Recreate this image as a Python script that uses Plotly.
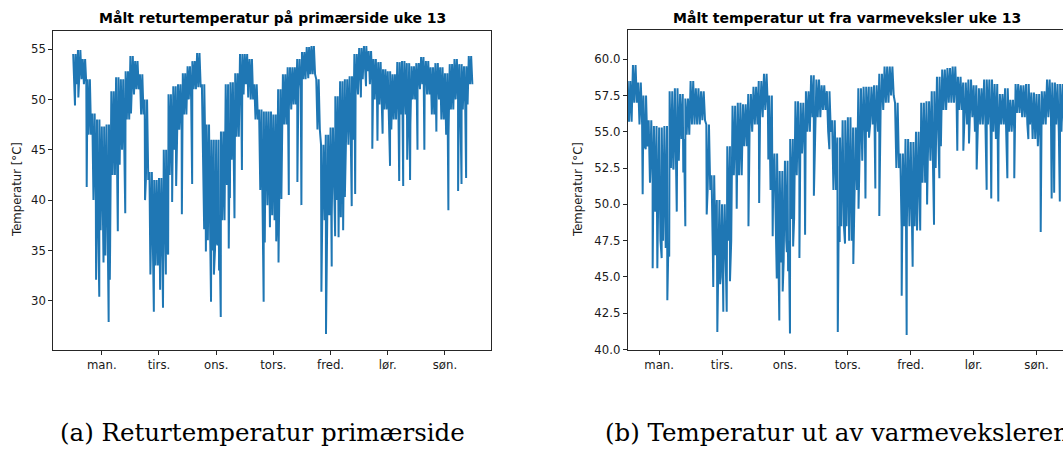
import plotly.graph_objects as go

W, H = 1063, 453

# ---------------- data ----------------
day_labels = ["man.", "tirs.", "ons.", "tors.", "fred.", "lør.", "søn."]
day_ticks = [0.5, 1.5, 2.5, 3.5, 4.5, 5.5, 6.5]   # noon of each day (x in days)
cell_hours = 2                                    # envelope readings every 2 hours

# Left chart: return temperature, primary side (upper / lower edge of the dense band per 2 h)
left_hi = [54.5, 54.9, 54.0, 52.0, 48.6, 48.0, 47.3, 47.5, 50.8, 52.2, 52.0, 52.8,
           54.3, 53.8, 52.5, 50.0, 42.8, 42.0, 42.2, 45.0, 50.5, 51.3, 51.5, 52.6,
           53.3, 53.8, 54.6, 51.5, 47.5, 46.0, 46.0, 46.8, 51.5, 51.7, 52.6, 54.5,
           54.5, 54.0, 51.5, 49.0, 48.8, 48.8, 48.5, 51.0, 52.5, 53.2, 53.2, 54.0,
           54.7, 55.2, 55.3, 52.0, 45.5, 46.5, 47.2, 50.3, 51.8, 52.0, 52.3, 54.5,
           55.1, 55.3, 54.8, 54.0, 53.7, 53.0, 52.8, 52.5, 53.7, 53.8, 53.6, 53.3,
           53.6, 54.2, 53.8, 53.2, 53.6, 53.2, 52.6, 53.5, 54.0, 53.5, 53.3, 54.3]
left_lo = [51.5, 52.0, 51.5, 46.5, 40.0, 37.0, 34.5, 35.5, 42.5, 43.5, 45.0, 48.0,
           50.5, 51.0, 48.5, 42.0, 34.0, 33.5, 33.5, 35.0, 42.5, 45.0, 47.0, 48.5,
           50.0, 51.0, 51.2, 44.0, 36.0, 35.0, 35.5, 38.0, 41.5, 44.0, 46.3, 50.5,
           51.5, 50.0, 48.0, 41.0, 39.5, 38.5, 38.0, 43.0, 47.5, 49.0, 49.5, 51.0,
           52.0, 52.5, 52.5, 47.0, 38.0, 38.5, 38.5, 40.0, 43.0, 45.5, 46.0, 50.5,
           52.0, 52.8, 51.5, 50.0, 49.5, 49.0, 47.0, 48.0, 48.5, 48.5, 47.5, 50.0,
           51.0, 51.5, 50.5, 48.5, 50.0, 48.0, 46.5, 49.0, 50.0, 49.0, 49.5, 51.5]
left_spike_t = [0.031, 0.090, 0.236, 0.40, 0.456, 0.53, 0.62, 0.64, 0.78, 0.91, 1.01,
                1.256, 1.35, 1.41, 1.52, 1.57, 1.62, 1.66, 1.73, 1.80, 1.90, 2.08,
                2.29, 2.32, 2.41, 2.46, 2.50, 2.55, 2.58, 2.72, 2.74, 2.82, 2.95, 3.06,
                3.33, 3.35, 3.44, 3.55, 3.59, 3.64, 3.77, 3.92, 3.99, 4.11,
                4.34, 4.42, 4.47, 4.52, 4.58, 4.64, 4.68, 4.72, 4.75, 4.87, 4.93,
                5.03, 5.12, 5.23, 5.32, 5.41, 5.54, 5.70, 5.77, 5.84, 5.89, 6.02,
                6.14, 6.35, 6.56, 6.73, 6.79, 6.87]
left_spike_v = [49.4, 50.2, 41.3, 32.1, 30.4, 33.8, 27.9, 32.1, 36.9, 38.7, 48.6,
                40.0, 32.6, 28.9, 31.1, 29.3, 32.6, 34.6, 39.8, 41.4, 38.6, 41.6,
                37.1, 34.9, 29.9, 32.6, 36.4, 33.0, 28.4, 35.2, 40.2, 38.2, 43.0, 50.2,
                29.9, 35.8, 37.3, 35.9, 33.8, 40.1, 40.5, 41.8, 39.5, 52.1,
                30.9, 26.7, 38.8, 33.4, 36.4, 36.3, 38.3, 37.0, 40.3, 39.4, 40.6,
                50.2, 51.3, 45.1, 45.9, 46.6, 43.4, 41.9, 41.4, 44.0, 42.0, 45.0,
                45.0, 46.8, 39.0, 40.9, 41.6, 42.2]

# Right chart: temperature out of the heat exchanger
right_hi = [58.5, 59.6, 58.4, 57.5, 55.8, 55.4, 55.3, 55.4, 57.8, 58.0, 57.6, 57.3,
            58.5, 58.0, 57.8, 55.5, 52.0, 50.3, 50.0, 54.0, 56.8, 57.0, 56.9, 57.6,
            58.1, 58.5, 59.0, 57.5, 53.5, 52.3, 53.0, 54.5, 57.1, 57.0, 57.8, 58.9,
            58.6, 58.2, 57.8, 55.8, 54.6, 55.8, 56.0, 55.3, 58.0, 58.1, 58.1, 58.2,
            59.0, 59.5, 59.5, 57.0, 53.5, 54.5, 54.3, 55.0, 57.0, 57.1, 57.8, 58.8,
            59.3, 59.4, 59.5, 58.8, 58.4, 58.6, 58.2, 58.0, 58.6, 58.6, 58.3, 57.6,
            58.0, 57.2, 58.3, 58.2, 58.3, 57.7, 57.6, 57.8, 58.6, 58.4, 58.3, 58.3]
right_lo = [55.7, 57.0, 55.5, 54.0, 51.5, 49.5, 47.5, 47.0, 52.5, 53.0, 54.5, 54.8,
            55.5, 55.5, 55.8, 51.0, 46.5, 45.0, 45.0, 47.5, 52.0, 52.0, 54.0, 55.0,
            55.5, 56.0, 56.5, 51.0, 47.0, 46.0, 47.5, 49.0, 52.0, 53.5, 55.0, 56.0,
            56.0, 56.5, 55.0, 51.0, 48.5, 48.5, 47.5, 51.0, 53.0, 55.0, 55.5, 55.0,
            56.5, 57.0, 57.5, 52.5, 48.5, 48.5, 48.5, 49.0, 51.5, 53.0, 52.5, 54.0,
            56.5, 57.0, 57.0, 56.5, 55.5, 56.0, 55.0, 55.5, 55.5, 55.0, 54.5, 55.5,
            55.0, 55.0, 56.3, 56.0, 55.5, 54.5, 54.0, 55.5, 56.0, 55.5, 55.0, 55.5]
right_spike_t = [0.238, 0.286, 0.397, 0.471, 0.54, 0.63, 0.66, 0.725, 0.78, 0.884, 0.916,
                 1.256, 1.36, 1.425, 1.47, 1.52, 1.574, 1.626, 1.733, 1.92, 2.09, 2.236,
                 2.305, 2.37, 2.41, 2.464, 2.53, 2.55, 2.58, 2.63, 2.73, 2.82, 2.96, 3.206,
                 3.34, 3.37, 3.455, 3.48, 3.587, 3.67, 3.78, 3.836, 3.937, 4.0,
                 4.356, 4.435, 4.48, 4.53, 4.6, 4.65, 4.76, 4.87, 4.955,
                 5.24, 5.336, 5.426, 5.548, 5.707, 5.78, 5.892, 6.036, 6.146, 6.37,
                 6.566, 6.74, 6.78, 6.87]
right_spike_v = [50.7, 53.8, 45.6, 45.6, 46.3, 43.4, 46.4, 52.4, 49.5, 52.2, 48.5,
                 49.3, 44.3, 41.2, 44.5, 42.6, 42.6, 44.7, 49.7, 48.5, 50.1, 53.1,
                 47.8, 44.9, 42.0, 44.0, 46.7, 45.4, 41.1, 47.1, 46.3, 47.9, 50.6, 53.8,
                 41.2, 47.4, 47.3, 48.5, 45.9, 49.7, 50.4, 54.6, 51.1, 49.2,
                 43.7, 41.0, 48.6, 45.7, 48.2, 48.2, 50.0, 48.6, 51.8,
                 53.7, 53.7, 54.2, 52.4, 51.0, 50.4, 50.2, 51.8, 51.8, 54.5,
                 48.1, 50.4, 50.8, 50.2]

left_yticks = [30, 35, 40, 45, 50, 55]
right_yticks = [40.0, 42.5, 45.0, 47.5, 50.0, 52.5, 55.0, 57.5, 60.0]


def build(hi, lo, st, sv, n=4):
    """Dense band: alternate between upper and lower readings, plus single-sample spikes."""
    cell = cell_hours / 24.0
    pts = []
    for i, (h, l) in enumerate(zip(hi, lo)):
        for k in range(n):
            pts.append((i * cell + k * cell / n, h if k % 2 == 0 else l))
    pts += list(zip(st, sv))
    pts.sort(key=lambda p: p[0])
    return [p[0] for p in pts], [p[1] for p in pts]


lx, ly = build(left_hi, left_lo, left_spike_t, left_spike_v)
rx, ry = build(right_hi, right_lo, right_spike_t, right_spike_v)

BLUE = "#1f77b4"
AX = "#262626"
TICKFONT = dict(family="DejaVu Sans", size=11.7, color="#1a1a1a")

fig = go.Figure()
fig.add_trace(go.Scatter(x=lx, y=ly, mode="lines", line=dict(color=BLUE, width=2),
                         xaxis="x", yaxis="y", showlegend=False, hoverinfo="skip"))
fig.add_trace(go.Scatter(x=rx, y=ry, mode="lines", line=dict(color=BLUE, width=2),
                         xaxis="x2", yaxis="y2", showlegend=False, hoverinfo="skip"))

y_bot = 1 - 355 / H
axis_common = dict(showgrid=False, zeroline=False, showline=True, linecolor=AX,
                   linewidth=1, ticks="outside", ticklen=4, tickwidth=1, tickcolor=AX,
                   tickfont=TICKFONT)

fig.update_layout(
    width=W, height=H,
    margin=dict(l=0, r=0, t=0, b=0),
    paper_bgcolor="white", plot_bgcolor="white",
    xaxis=dict(domain=[53.3 / W, 490.7 / W], range=[-0.348, 7.30],
               tickvals=day_ticks, ticktext=day_labels, mirror=True, anchor="y",
               **axis_common),
    yaxis=dict(domain=[y_bot, 1 - 31 / H], range=[25.16, 56.84],
               tickvals=left_yticks, mirror=True, anchor="x", **axis_common),
    xaxis2=dict(domain=[627.7 / W, 1.0], range=[0, (1063 - 627.7) / 62.9],
                tickvals=day_ticks, ticktext=day_labels, mirror=True, anchor="y2",
                **axis_common),
    yaxis2=dict(domain=[y_bot, 1 - 30.7 / H], range=[40, 62],
                tickvals=right_yticks, ticktext=[f"{v:.1f}" for v in right_yticks],
                mirror=False, anchor="x2", **axis_common),
)

annotations = [
    dict(text="<b>Målt returtemperatur på primærside uke 13</b>", x=272 / W, y=1 - 18.5 / H,
         font=dict(family="DejaVu Sans", size=14, color="black")),
    dict(text="<b>Målt temperatur ut fra varmeveksler uke 13</b>", x=846.8 / W, y=1 - 18.5 / H,
         font=dict(family="DejaVu Sans", size=14, color="black")),
    dict(text="Temperatur [°C]", x=17 / W, y=1 - 193 / H, textangle=-90,
         font=dict(family="DejaVu Sans", size=11.7, color="#1a1a1a")),
    dict(text="Temperatur [°C]", x=578 / W, y=1 - 193 / H, textangle=-90,
         font=dict(family="DejaVu Sans", size=11.7, color="#1a1a1a")),
    dict(text="(a) Returtemperatur primærside", x=58 / W, y=1 - 439 / H, xanchor="left",
         font=dict(family="DejaVu Serif", size=24.5, color="black")),
    dict(text="(b) Temperatur ut av varmeveksleren", x=603 / W, y=1 - 439 / H, xanchor="left",
         font=dict(family="DejaVu Serif", size=24.5, color="black")),
]
for a in annotations:
    a.setdefault("xanchor", "center")
    a.update(xref="paper", yref="paper", yanchor="middle", showarrow=False)
fig.update_layout(annotations=annotations)

fig.write_html("out.html")
